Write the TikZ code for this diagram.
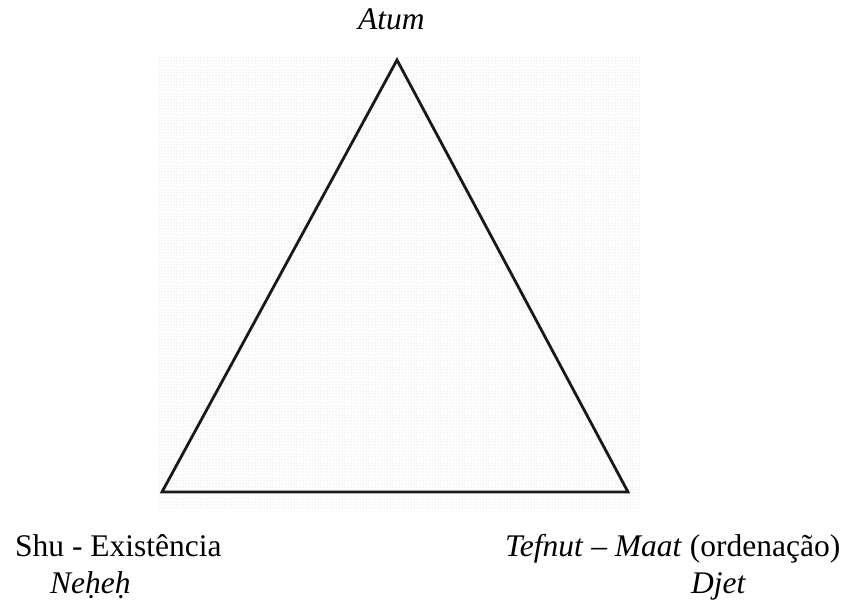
\documentclass[tikz,border=0pt]{standalone}
\usepackage{fontspec}
\setmainfont{Liberation Serif}
\usetikzlibrary{patterns}
\begin{document}
\begin{tikzpicture}[x=1pt,y=-1pt,
  lbl/.style={inner sep=0pt,anchor=base west,font=\fontsize{31.5}{38}\selectfont},
  tri/.style={line width=2.8pt,line join=miter,black!90}]
\useasboundingbox (0,0) rectangle (845,601);
\fill[pattern=dots,pattern color=black!22] (159,56) rectangle (641,508);
\coordinate (apex) at (397,60);
\coordinate (bl) at (162,492);
\coordinate (br) at (628,492);
\draw[tri] (apex) -- (bl) -- (br) -- cycle;
\node[lbl] (atum) at (358,30) {\itshape Atum};
\node[lbl] (shu) at (15,556) {Shu - Existência};
\node[lbl] (neheh) at (50,593) {\itshape Neḥeḥ};
\node[lbl] (tefnut) at (505,556) {\textit{Tefnut} – \textit{Maat} (ordenação)};
\node[lbl] (djet) at (691,593) {\itshape Djet};
\end{tikzpicture}
\end{document}
